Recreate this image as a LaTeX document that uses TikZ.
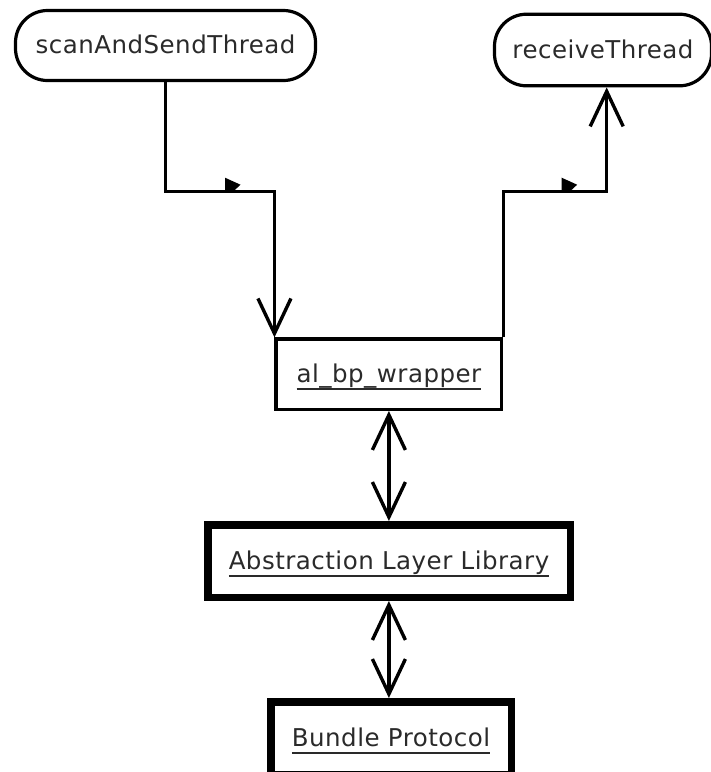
\documentclass[tikz,border=0pt]{standalone}
\usepackage{fontspec}
\usetikzlibrary{arrows.meta}
\newfontfamily\lblfont{DejaVu Sans}[LetterSpace=2]
\definecolor{txtgray}{HTML}{2A2A2A}
% underline at a fixed distance below the baseline
\newcommand\ulabel[1]{\setbox0\hbox{#1}\rlap{\rule[-7.6pt]{\wd0}{1.7pt}}\box0}
\tikzset{
  lbl/.style={font=\lblfont\fontsize{24.5}{29}\selectfont, text=txtgray,
    inner sep=0pt, text height=16.5pt, text depth=0pt},
  thread/.style={lbl, draw=black, line width=3.2pt, rounded corners=32pt},
  plainbox/.style={lbl, draw=black, line width=3.2pt},
  layerbox/.style={lbl, draw=black, line width=7.5pt},
  conn/.style={draw=black, line width=3.4pt},
  vtip/.tip={Straight Barb[length=35pt, width=33pt]},
  flagmark/.style={fill=black}
}
\begin{document}
\begin{tikzpicture}[x=1pt, y=-1pt]
\useasboundingbox[fill=white] (0,0) rectangle (711,772);

% threads
\node[thread, minimum width=300pt, minimum height=70pt] (scan) at (165.5,45.5) {scanAndSendThread};
\node[thread, minimum width=217pt, minimum height=71.6pt] (rv) at (603,50) {receiveThread};

% library stack
\node[plainbox, minimum width=225.7pt, minimum height=70.3pt] (wrap) at (388.9,374.2) {\ulabel{al\_bp\_wrapper}};
\node[layerbox, minimum width=362.5pt, minimum height=72.5pt] (all) at (389,561) {\ulabel{Abstraction Layer Library}};
\node[layerbox, minimum width=240.5pt, minimum height=72.5pt] (bp) at (391,738) {\ulabel{Bundle Protocol}};

% routing helpers
\coordinate (bend) at (0,191.7);
\coordinate (rvin) at ([xshift=3.7pt]rv.south);
\coordinate (c1) at (scan.south |- bend);
\coordinate (c2) at (wrap.north east |- bend);

% connectors
\draw[conn, -{vtip}] (scan.south) -- (c1) -- (bend -| wrap.north west) -- (wrap.north west);
\draw[conn, -{vtip}] (wrap.north east) -- (c2) -| (rvin);
\draw[conn, {vtip}-{vtip}] (wrap.south) -- (wrap.south |- all.north);
\draw[conn, {vtip}-{vtip}] (all.south -| wrap.south) -- (bp.north -| wrap.south);

% direction flags on the horizontal runs
\coordinate (m1) at ([xshift=59.5pt]c1);
\coordinate (m2) at ([xshift=58.3pt]c2);
\fill[flagmark] (m1) -- ++(0,-14) -- ++(15.5,7) -- ++(-7.5,7) -- cycle;
\fill[flagmark] (m2) -- ++(0,-14) -- ++(15.5,7) -- ++(-7.5,7) -- cycle;
\end{tikzpicture}
\end{document}
